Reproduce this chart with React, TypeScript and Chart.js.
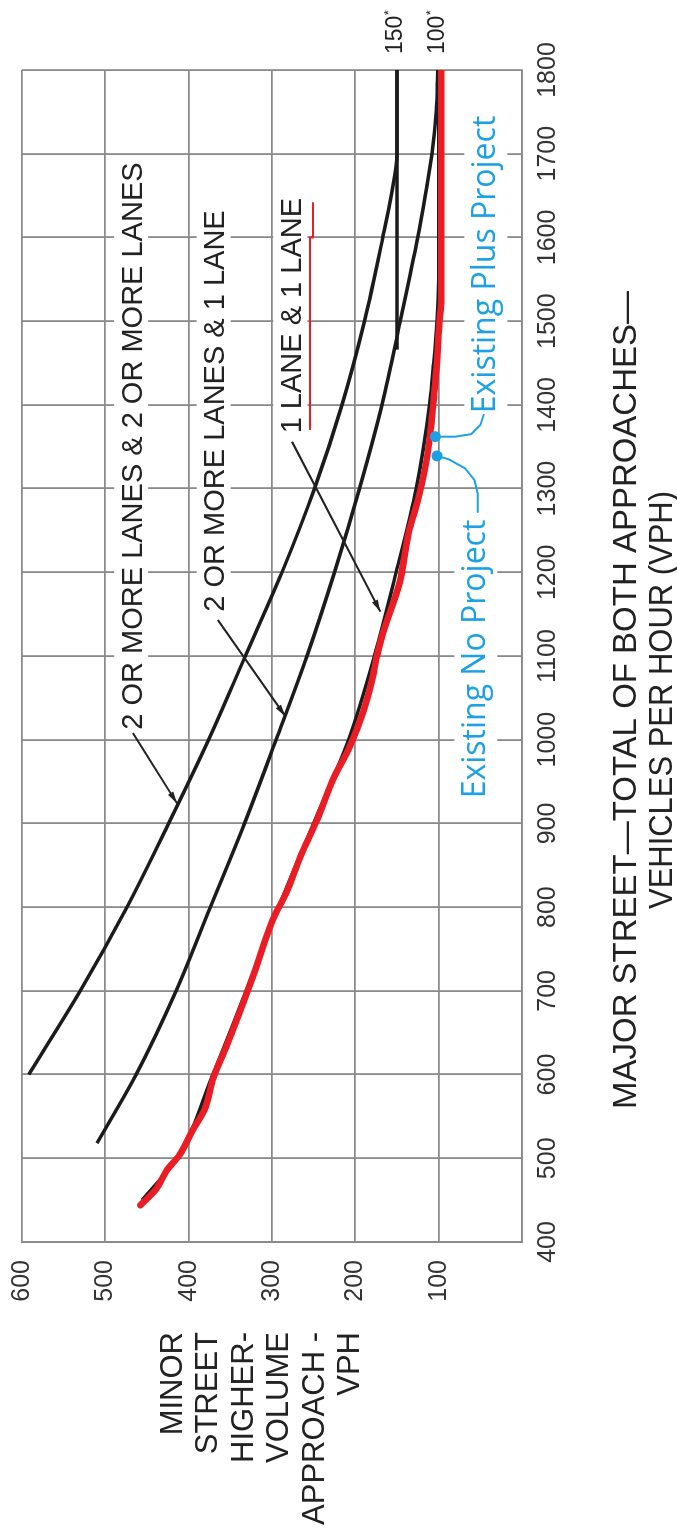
import React, { useEffect, useRef } from "react";
import { Chart, registerables } from "chart.js";

Chart.register(...registerables);

// ---------------- data (major street VPH -> minor street VPH) ----------------
const majorTicks = [400, 500, 600, 700, 800, 900, 1000, 1100, 1200, 1300, 1400, 1500, 1600, 1700, 1800];
const minorTicks = [0, 100, 200, 300, 400, 500, 600];

// 2 OR MORE LANES & 2 OR MORE LANES
const twoTwoMajor = [600, 700, 800, 900, 1000, 1100, 1200, 1300, 1400, 1500, 1600, 1650, 1700, 1800];
const twoTwoMinor = [592, 530, 474, 424, 376, 332, 288, 249, 216, 189, 167, 157, 150, 150];

// 2 OR MORE LANES & 1 LANE
const twoOneMajor = [518, 600, 700, 800, 900, 1000, 1100, 1200, 1300, 1400, 1500, 1600, 1650, 1700, 1750, 1800];
const twoOneMinor = [510, 463, 415, 374, 333, 295, 258, 225, 195, 168, 146, 125, 116, 108, 103, 101];

// 150* lower threshold
const floor150Major = [1466, 1800];
const floor150Minor = [150, 150];

// 1 LANE & 1 LANE (printed curve)
const oneOneMajor = [450, 500, 600, 700, 800, 900, 1000, 1100, 1200, 1300, 1400, 1450, 1500, 1550, 1800];
const oneOneMinor = [456, 414, 371, 331, 292, 250, 208, 177, 151, 127, 111, 106, 102, 100, 100];

// red hand-traced 1 LANE & 1 LANE curve
const tracedMajor = [444, 462, 486, 504, 534, 558, 597, 633, 717, 785, 817, 860, 904, 952, 991, 1032, 1071, 1100, 1127, 1187, 1247, 1286, 1326, 1366, 1406, 1450, 1500, 1525, 1800];
const tracedMinor = [458, 440, 426, 411, 395, 381, 370, 355, 323, 299, 283, 266, 246, 227, 207, 191, 180, 174, 167, 147, 136, 125, 116, 110, 106, 102, 99, 97, 97];

// project points
const projectNames = ["Existing No Project", "Existing Plus Project"];
const projectMajor = [1339, 1362];
const projectMinor = [102, 104];

const curveNames = ["2 OR MORE LANES & 2 OR MORE LANES", "2 OR MORE LANES & 1 LANE", "1 LANE & 1 LANE"];
const thresholdLabels = ["150", "100"];
const thresholdValues = [150, 100];

const xTitle = ["MAJOR STREET\u2014TOTAL OF BOTH APPROACHES\u2014", "VEHICLES PER HOUR (VPH)"];
const yTitle = ["MINOR", "STREET", "HIGHER-", "VOLUME", "APPROACH -", "VPH"];

// ---------------- styling / layout ----------------
const W = 1539;
const H = 677;
const FONT = "'Liberation Sans', Arial, Helvetica, sans-serif";
const BLUE_FONT = "'Open Sans', 'Noto Sans', sans-serif";
const GRID = "#8a8a8a";
const INK = "#222222";
const RED = "#ea1d25";
const BLUE = "#1ea0e4";

// annotation anchors, in data units [major, minor]
const curveLabelPos = [
  [1012, 469],
  [1153, 370],
  [1366, 278],
];
const leaders = [
  [[1008, 467], [924, 414]],
  [[1143, 365], [1028, 284]],
  [[1356, 276], [1153, 170]],
];
const projectLabelPos = [
  [930, 44],
  [1390, 32],
];
const projectLeaders = [
  [[1339, 102], [1335, 88], [1324, 68], [1310, 57], [1294, 53], [1272, 53]],
  [[1362, 104], [1362, 80], [1365, 61], [1376, 50], [1388, 46]],
];
const underline = [[1370, 254.5], [1600, 254.5], [1600, 250.8], [1642, 250.8]];

const zip = (xs: number[], ys: number[]) => xs.map((x, i) => ({ x, y: ys[i] }));

function arrowHead(ctx: CanvasRenderingContext2D, x1: number, y1: number, x2: number, y2: number) {
  const a = Math.atan2(y2 - y1, x2 - x1);
  const L = 12;
  const w = 3.2;
  ctx.beginPath();
  ctx.moveTo(x2, y2);
  ctx.lineTo(x2 - L * Math.cos(a) + w * Math.sin(a), y2 - L * Math.sin(a) - w * Math.cos(a));
  ctx.lineTo(x2 - L * Math.cos(a) - w * Math.sin(a), y2 - L * Math.sin(a) + w * Math.cos(a));
  ctx.closePath();
  ctx.fill();
}

// draw text centred at cx, stretched/condensed horizontally to a target width
function fitText(ctx: CanvasRenderingContext2D, t: string, cx: number, base: number, target: number) {
  const w = ctx.measureText(t).width;
  const k = target / w;
  ctx.save();
  ctx.translate(cx, base);
  ctx.scale(k, 1);
  ctx.textAlign = "center";
  ctx.fillText(t, 0, 0);
  ctx.restore();
}

const figurePlugin = {
  id: "figure",
  beforeDatasetsDraw(chart: any) {
    const { ctx, scales } = chart;
    const X = (v: number) => scales.x.getPixelForValue(v);
    const Y = (v: number) => scales.y.getPixelForValue(v);
    ctx.save();
    ctx.textAlign = "left";
    ctx.textBaseline = "alphabetic";
    // curve labels on white
    const ls = 29;
    ctx.font = `${ls}px ${FONT}`;
    curveNames.forEach((t, i) => {
      const [mx, my] = curveLabelPos[i];
      const x0 = X(mx);
      const cy = Y(my);
      const w = ctx.measureText(t).width;
      ctx.fillStyle = "#ffffff";
      ctx.fillRect(x0 - 5, cy - 17, w + 10, 34);
      ctx.fillStyle = INK;
      ctx.fillText(t, x0, cy + 0.358 * ls);
    });
    // project labels
    const bs = 32;
    ctx.font = `${bs}px ${BLUE_FONT}`;
    projectNames.forEach((t, i) => {
      const [mx, my] = projectLabelPos[i];
      const x0 = X(mx);
      const base = Y(my);
      const w = ctx.measureText(t).width;
      ctx.fillStyle = "#ffffff";
      ctx.fillRect(x0 - 6, base - 31, w + 12, 43);
      ctx.fillStyle = BLUE;
      ctx.fillText(t, x0, base);
    });
    ctx.restore();
  },
  afterDatasetsDraw(chart: any) {
    const { ctx, scales } = chart;
    const X = (v: number) => scales.x.getPixelForValue(v);
    const Y = (v: number) => scales.y.getPixelForValue(v);
    ctx.save();
    // black leaders with arrow heads
    ctx.strokeStyle = INK;
    ctx.fillStyle = INK;
    ctx.lineWidth = 2;
    leaders.forEach(([a, b]) => {
      const x1 = X(a[0]), y1 = Y(a[1]), x2 = X(b[0]), y2 = Y(b[1]);
      ctx.beginPath();
      ctx.moveTo(x1, y1);
      ctx.lineTo(x2, y2);
      ctx.stroke();
      arrowHead(ctx, x1, y1, x2, y2);
    });
    // red underline
    ctx.strokeStyle = RED;
    ctx.lineWidth = 2;
    ctx.beginPath();
    underline.forEach((p, i) => (i ? ctx.lineTo(X(p[0]), Y(p[1])) : ctx.moveTo(X(p[0]), Y(p[1]))));
    ctx.stroke();
    // blue leaders
    ctx.strokeStyle = BLUE;
    ctx.lineWidth = 2;
    ctx.lineJoin = "round";
    ctx.lineCap = "round";
    projectLeaders.forEach((pts) => {
      ctx.beginPath();
      pts.forEach((p, i) => (i ? ctx.lineTo(X(p[0]), Y(p[1])) : ctx.moveTo(X(p[0]), Y(p[1]))));
      ctx.stroke();
    });
    ctx.restore();
  },
  afterDraw(chart: any) {
    const { ctx, chartArea, scales } = chart;
    const Y = (v: number) => scales.y.getPixelForValue(v);
    ctx.save();
    ctx.fillStyle = INK;
    ctx.textBaseline = "alphabetic";
    // y title (right aligned block)
    const ys = 31;
    ctx.font = `${ys}px ${FONT}`;
    ctx.textAlign = "right";
    yTitle.forEach((t, i) => {
      const cy = chartArea.top + 149 + i * 35.4;
      ctx.fillText(t, chartArea.left - 90, cy + 0.358 * ys);
    });
    // x title (centered)
    const xs = 32.5;
    ctx.font = `${xs}px ${FONT}`;
    const cx = chartArea.left + 542;
    fitText(ctx, xTitle[0], cx, chartArea.bottom + 102.5 + 0.358 * xs, 818);
    fitText(ctx, xTitle[1], cx, chartArea.bottom + 138 + 0.358 * xs, 418);
    // thresholds 150* / 100*
    const ts = 23;
    ctx.textAlign = "left";
    thresholdLabels.forEach((t, i) => {
      const cy = Y(thresholdValues[i]) - 3;
      const x0 = chartArea.right + 16;
      ctx.font = `${ts}px ${FONT}`;
      ctx.fillText(t, x0, cy + 0.358 * ts);
      const w = ctx.measureText(t).width;
      ctx.font = `13px ${FONT}`;
      ctx.fillText("*", x0 + w + 0.5, cy - 1);
    });
    ctx.restore();
  },
};

export default function App() {
  const ref = useRef<HTMLCanvasElement>(null);
  useEffect(() => {
    if (!ref.current) return;
    const lineBase = { pointRadius: 0, fill: false, cubicInterpolationMode: "monotone" as const };
    const chart = new Chart(ref.current, {
      type: "line",
      data: {
        datasets: [
          {
            label: "Project points",
            data: zip(projectMajor, projectMinor),
            showLine: false,
            pointRadius: 5.5,
            pointBackgroundColor: BLUE,
            pointBorderWidth: 0,
            order: 0,
          },
          {
            label: "Traced 1 LANE & 1 LANE",
            data: zip(tracedMajor, tracedMinor),
            borderColor: RED,
            borderWidth: 6.5,
            borderCapStyle: "round",
            borderJoinStyle: "round",
            ...lineBase,
            order: 1,
          },
          {
            label: "1 LANE & 1 LANE",
            data: zip(oneOneMajor, oneOneMinor),
            borderColor: "#1b1b1b",
            borderWidth: 3.5,
            ...lineBase,
            order: 2,
          },
          {
            label: "2 OR MORE LANES & 1 LANE",
            data: zip(twoOneMajor, twoOneMinor),
            borderColor: "#1b1b1b",
            borderWidth: 3.5,
            ...lineBase,
            order: 3,
          },
          {
            label: "2 OR MORE LANES & 2 OR MORE LANES",
            data: zip(twoTwoMajor, twoTwoMinor),
            borderColor: "#1b1b1b",
            borderWidth: 3.5,
            ...lineBase,
            order: 4,
          },
          {
            label: "150 threshold",
            data: zip(floor150Major, floor150Minor),
            borderColor: "#1b1b1b",
            borderWidth: 3.5,
            ...lineBase,
            order: 5,
          },
        ],
      },
      options: {
        animation: false,
        responsive: false,
        events: [],
        layout: { padding: { top: 22, right: 70, left: 0, bottom: 0 } },
        plugins: {
          legend: { display: false },
          tooltip: { enabled: false },
          title: { display: false },
        },
        scales: {
          x: {
            type: "linear",
            min: 400,
            max: 1800,
            afterBuildTicks: (s: any) => {
              s.ticks = majorTicks.map((v) => ({ value: v }));
            },
            ticks: {
              autoSkip: false,
              maxRotation: 0,
              minRotation: 0,
              padding: 11,
              color: "#333333",
              font: { family: FONT, size: 25 },
              callback: (v: any) => String(v),
            },
            grid: { color: GRID, lineWidth: 1.8, drawTicks: false },
            border: { color: GRID, width: 1.8 },
            afterFit: (s: any) => {
              s.height = 155;
              s.paddingLeft = 0;
              s.paddingRight = 0;
            },
          },
          y: {
            type: "linear",
            min: 0,
            max: 600,
            afterBuildTicks: (s: any) => {
              s.ticks = minorTicks.map((v) => ({ value: v }));
            },
            ticks: {
              autoSkip: false,
              padding: 18,
              color: "#333333",
              font: { family: FONT, size: 25 },
              callback: (v: any) => (Number(v) === 0 ? "" : String(v)),
            },
            grid: { color: GRID, lineWidth: 1.8, drawTicks: false },
            border: { color: GRID, width: 1.8 },
            afterFit: (s: any) => {
              s.width = 297;
              s.paddingTop = 0;
              s.paddingBottom = 0;
            },
          },
        },
      },
      plugins: [figurePlugin],
    } as any);
    return () => chart.destroy();
  }, []);

  return (
    <div
      style={{
        position: "fixed",
        left: 0,
        top: 0,
        width: W,
        height: H,
        background: "#ffffff",
        transformOrigin: "0 0",
        transform: `translateY(${W}px) rotate(-90deg)`,
      }}
    >
      <canvas ref={ref} width={W} height={H} style={{ display: "block", width: W, height: H }} />
    </div>
  );
}
